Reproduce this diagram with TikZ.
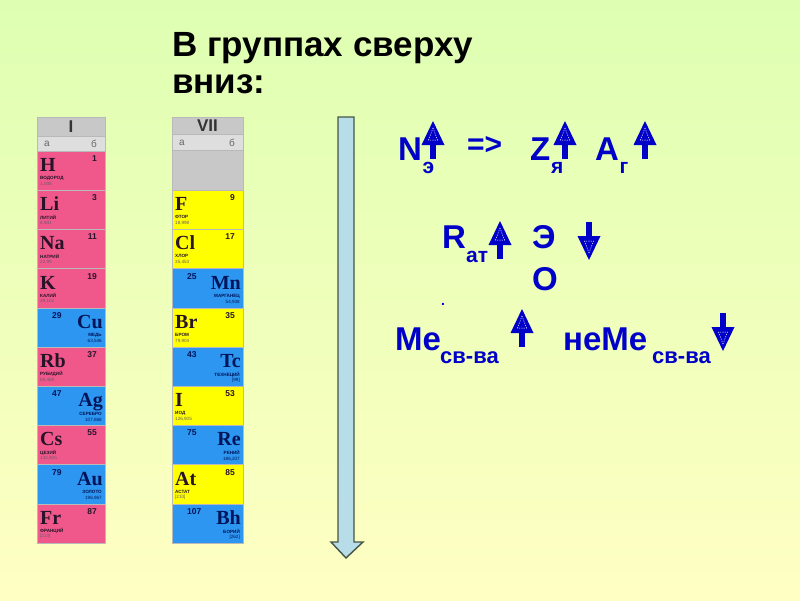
\documentclass[tikz,border=0pt]{standalone}
\usepackage{fontspec}
\setmainfont{Liberation Sans}
\newfontfamily\elserif{Liberation Serif}
\definecolor{bgtop}{RGB}{222,255,178}
\definecolor{bgbot}{RGB}{255,255,195}
\definecolor{txtblue}{RGB}{0,0,200}
\definecolor{pinkc}{RGB}{240,88,140}
\definecolor{bluec}{RGB}{45,150,240}
\definecolor{yelc}{RGB}{255,255,0}
\definecolor{hdrgray}{RGB}{200,200,200}
\definecolor{subgray}{RGB}{222,222,222}
\definecolor{celltxt}{RGB}{40,20,40}
\definecolor{dcelltxt}{RGB}{0,20,90}
\definecolor{bigarrfill}{RGB}{183,222,232}
\definecolor{bigarrline}{RGB}{70,85,70}
\tikzset{
  cellline/.style={draw=gray!55, line width=0.6pt},
  bigtxt/.style={font=\fontsize{33}{38}\selectfont\bfseries, text=txtblue, inner sep=0pt, anchor=base west},
  subtxt/.style={font=\fontsize{21}{24}\selectfont\bfseries, text=txtblue, inner sep=0pt, anchor=base west},
  titletxt/.style={font=\fontsize{35}{40}\selectfont\bfseries, text=black, inner sep=0pt, anchor=base west},
  symtxt/.style={font=\elserif\fontsize{20}{22}\selectfont\bfseries, text=celltxt, inner sep=0pt},
  numtxt/.style={font=\fontsize{8.5}{10}\selectfont\bfseries, text=celltxt, inner sep=0pt},
  nametxt/.style={font=\fontsize{4.6}{5}\selectfont\bfseries, text=celltxt, inner sep=0pt},
  masstxt/.style={font=\fontsize{4.6}{5}\selectfont, text=celltxt!70, inner sep=0pt},
  hdrtxt/.style={font=\fontsize{17}{20}\selectfont\bfseries, text=black!80, inner sep=0pt},
  abtxt/.style={font=\fontsize{10}{12}\selectfont, text=black!60, inner sep=0pt},
  uparr/.pic={
    \fill[txtblue] (-2.8,23) rectangle (2.8,38);
    \fill[txtblue] (0,0) -- (11.5,24) -- (-11.5,24) -- cycle;
    \draw[white, line width=0.5pt, dash pattern=on 1.2pt off 1.2pt] (0,7) -- (4.5,19) -- (-4.5,19) -- cycle;
  },
  downarr/.pic={
    \fill[txtblue] (-2.8,0) rectangle (2.8,15);
    \fill[txtblue] (0,38) -- (11.5,14) -- (-11.5,14) -- cycle;
    \draw[white, line width=0.5pt, dash pattern=on 1.2pt off 1.2pt] (0,31) -- (4.5,19) -- (-4.5,19) -- cycle;
  },
}
\newcommand\elemS[8]{%
  \draw[cellline, fill=#4] (#1,#2) rectangle ++(#3,39.2);
  \node[symtxt, anchor=base west] (sym-#5) at (#1+3,#2+20.5) {#5};
  \node[numtxt, anchor=east] (num-#5) at (#1+#3-8,#2+7.5) {#6};
  \node[nametxt, anchor=west] (nm-#5) at (#1+3,#2+27) {#7};
  \node[masstxt, anchor=west] (ms-#5) at (#1+3,#2+33) {#8};
}
\newcommand\elemD[8]{%
  \draw[cellline, fill=#4] (#1,#2) rectangle ++(#3,39.2);
  \node[symtxt, anchor=base east, text=dcelltxt] (sym-#5) at (#1+#3-2,#2+20.5) {#5};
  \node[numtxt, anchor=west, text=dcelltxt] (num-#5) at (#1+15,#2+7.5) {#6};
  \node[nametxt, anchor=east, text=dcelltxt] (nm-#5) at (#1+#3-3,#2+27.5) {#7};
  \node[masstxt, anchor=east, text=dcelltxt] (ms-#5) at (#1+#3-3,#2+33.5) {#8};
}
\begin{document}
\begin{tikzpicture}[x=1pt,y=-1pt]
\useasboundingbox (0,0) rectangle (800,600);
\shade[top color=bgtop, bottom color=bgbot] (0,0) rectangle (800,600);

% title
\node[titletxt] (t1) at (172,56) {В группах сверху};
\node[titletxt] (t2) at (172,93) {вниз:};

% ---- group I table ----
\draw[cellline, fill=hdrgray] (37,117) rectangle (105,136);
\node[hdrtxt] (hI) at (71,126.5) {I};
\draw[cellline, fill=subgray] (37,136) rectangle (105,151);
\node[abtxt] (aI) at (47,144) {а};
\node[abtxt] (bI) at (94,144) {б};
\elemS{37}{151}{68}{pinkc}{H}{1}{ВОДОРОД}{1,008}
\elemS{37}{190.2}{68}{pinkc}{Li}{3}{ЛИТИЙ}{6,941}
\elemS{37}{229.4}{68}{pinkc}{Na}{11}{НАТРИЙ}{22,99}
\elemS{37}{268.6}{68}{pinkc}{K}{19}{КАЛИЙ}{39,102}
\elemD{37}{307.8}{68}{bluec}{Cu}{29}{МЕДЬ}{63,546}
\elemS{37}{347}{68}{pinkc}{Rb}{37}{РУБИДИЙ}{85,468}
\elemD{37}{386.2}{68}{bluec}{Ag}{47}{СЕРЕБРО}{107,868}
\elemS{37}{425.4}{68}{pinkc}{Cs}{55}{ЦЕЗИЙ}{132,905}
\elemD{37}{464.6}{68}{bluec}{Au}{79}{ЗОЛОТО}{196,967}
\elemS{37}{503.8}{68}{pinkc}{Fr}{87}{ФРАНЦИЙ}{[223]}

% ---- group VII table ----
\draw[cellline, fill=hdrgray] (172,117) rectangle (243,134);
\node[hdrtxt] (hVII) at (207.5,125.5) {VII};
\draw[cellline, fill=subgray] (172,134) rectangle (243,150);
\node[abtxt] (aVII) at (182,142.5) {а};
\node[abtxt] (bVII) at (232,142.5) {б};
\draw[cellline, fill=hdrgray] (172,150) rectangle (243,190.2);
\elemS{172}{190.2}{71}{yelc}{F}{9}{ФТОР}{18,998}
\elemS{172}{229.4}{71}{yelc}{Cl}{17}{ХЛОР}{35,453}
\elemD{172}{268.6}{71}{bluec}{Mn}{25}{МАРГАНЕЦ}{54,938}
\elemS{172}{307.8}{71}{yelc}{Br}{35}{БРОМ}{79,904}
\elemD{172}{347}{71}{bluec}{Tc}{43}{ТЕХНЕЦИЙ}{[99]}
\elemS{172}{386.2}{71}{yelc}{I}{53}{ИОД}{126,905}
\elemD{172}{425.4}{71}{bluec}{Re}{75}{РЕНИЙ}{186,207}
\elemS{172}{464.6}{71}{yelc}{At}{85}{АСТАТ}{[210]}
\elemD{172}{503.8}{71}{bluec}{Bh}{107}{БОРИЙ}{[262]}

% ---- big downward arrow ----
\draw[fill=bigarrfill, draw=bigarrline, line width=1.4pt, line join=miter]
  (338,117) -- (354,117) -- (354,542) -- (363,542) -- (346,558) -- (331,542) -- (338,542) -- cycle;

% ---- right-hand text ----
\node[bigtxt] (N) at (398,160) {N};
\node[subtxt] (Nsub) at (422.5,173) {э};
\node[bigtxt, font=\fontsize{30}{34}\selectfont\bfseries] (impl) at (467,154) {=>};
\node[bigtxt] (Z) at (530,160) {Z};
\node[subtxt] (Zsub) at (551,173) {я};
\node[bigtxt] (A) at (595,160) {A};
\node[subtxt] (Asub) at (619.5,173) {г};

\node[bigtxt] (R) at (442,248) {R};
\node[subtxt] (Rsub) at (466,262) {ат};
\node[bigtxt] (E) at (532,248) {Э};
\node[bigtxt] (O) at (532,290) {О};
\node[bigtxt, font=\fontsize{14}{16}\selectfont\bfseries] (dot) at (441,305) {.};

\node[bigtxt] (Me) at (395,350) {Ме};
\node[subtxt, font=\fontsize{22}{24}\selectfont\bfseries] (Mesub) at (440,363) {св-ва};
\node[bigtxt] (neMe) at (563,350) {неМе};
\node[subtxt, font=\fontsize{22}{24}\selectfont\bfseries] (neMesub) at (652,363) {св-ва};

% ---- small arrows ----
\pic at (433,121) {uparr};
\pic at (565,121) {uparr};
\pic at (645,121) {uparr};
\pic at (500,221) {uparr};
\pic at (589,222) {downarr};
\pic at (522,309) {uparr};
\pic at (723,313) {downarr};
\end{tikzpicture}
\end{document}
